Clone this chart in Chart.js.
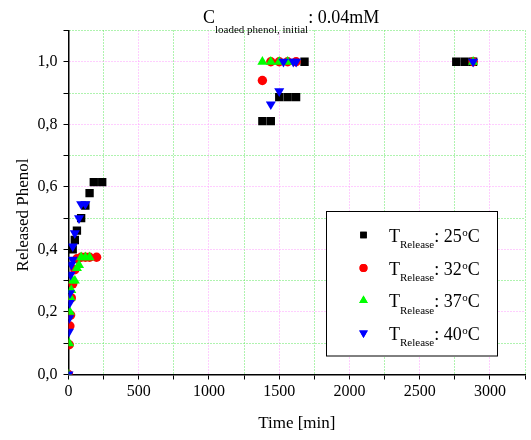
<!DOCTYPE html>
<html>
<head>
<meta charset="utf-8">
<script src="https://cdn.jsdelivr.net/npm/chart.js"></script>
<style>
  html, body { margin: 0; padding: 0; background: #fff; }
  #wrap { width: 531px; height: 440px; position: relative; }
</style>
</head>
<body>
<div id="wrap"><canvas id="c" width="531" height="440"></canvas></div>
<script>
// ---- data (time in min, released phenol fraction) ----
const seriesLabels = ["25", "32", "37", "40"];

const time25 = [30, 45, 60, 90, 120, 150, 180, 240, 1380, 1440, 1500, 1560, 1620, 1680, 2760, 2820, 2880];
const phenol25 = [0.40, 0.43, 0.46, 0.50, 0.54, 0.58, 0.615, 0.615, 0.81, 0.81, 0.887, 0.887, 0.887, 1.0, 1.0, 1.0, 1.0];

const time32 = [0, 5, 10, 15, 20, 30, 45, 60, 90, 120, 150, 200, 1380, 1440, 1500, 1560, 1620, 2880];
const phenol32 = [0.0, 0.095, 0.155, 0.19, 0.245, 0.29, 0.335, 0.37, 0.375, 0.375, 0.375, 0.375, 0.94, 1.0, 1.0, 1.0, 1.0, 1.0];

const time37 = [0, 5, 10, 15, 20, 30, 45, 60, 75, 90, 120, 150, 1380, 1440, 1500, 1560, 2880];
const phenol37 = [0.0, 0.10, 0.20, 0.245, 0.27, 0.30, 0.30, 0.34, 0.35, 0.375, 0.375, 0.375, 1.0, 1.0, 1.0, 1.0, 1.0];

const time40 = [0, 3, 5, 8, 10, 15, 20, 30, 30, 45, 75, 90, 120, 1440, 1500, 1530, 1600, 1620, 2880];
const phenol40 = [0.0, 0.137, 0.18, 0.229, 0.26, 0.319, 0.351, 0.367, 0.41, 0.452, 0.50, 0.545, 0.545, 0.864, 0.906, 1.0, 1.0, 1.0, 1.0];

const xTickStep = 250;   // labels every 500
const yTickStep = 0.1;   // labels every 0.2

function pts(t, v) { return t.map((x, i) => ({ x: x, y: v[i] })); }

const SERIF = '"Liberation Serif", "DejaVu Serif", serif';
const PINK = '#ff9cff';
const GREEN = '#5fe65f';

const styles = [
  { color: '#000000', pointStyle: 'rect', radius: 5.9, rotation: 0, lr: 4.6 },
  { color: '#ff0000', pointStyle: 'circle', radius: 4.7, rotation: 0, lr: 4.0 },
  { color: '#00ff00', pointStyle: 'triangle', radius: 5.8, rotation: 0, lr: 5.0 },
  { color: '#0000ff', pointStyle: 'triangle', radius: 5.8, rotation: 180, lr: 5.0 }
];
const seriesData = [pts(time25, phenol25), pts(time32, phenol32), pts(time37, phenol37), pts(time40, phenol40)];

const datasets = seriesData.map((d, i) => ({
  label: 'T_Release: ' + seriesLabels[i] + '°C',
  data: d,
  order: 4 - i,
  showLine: false,
  pointStyle: styles[i].pointStyle,
  rotation: styles[i].rotation,
  pointRadius: styles[i].radius,
  pointHoverRadius: styles[i].radius,
  backgroundColor: styles[i].color,
  borderColor: styles[i].color,
  borderWidth: 0
}));

// custom title, y-axis title and legend with sub/superscripts
const decor = {
  id: 'decor',
  afterDraw(chart) {
    const ctx = chart.ctx;
    ctx.save();
    ctx.fillStyle = '#000';
    ctx.textBaseline = 'alphabetic';
    ctx.textAlign = 'left';
    // title
    let x = 203;
    ctx.font = '18px ' + SERIF;
    ctx.fillText('C', x, 23); x += ctx.measureText('C').width;
    ctx.font = '11px ' + SERIF;
    ctx.fillText('loaded phenol, initial', x, 32.5); x += ctx.measureText('loaded phenol, initial').width;
    ctx.font = '18px ' + SERIF;
    ctx.fillText(': 0.04mM', x, 23);

    // y-axis title
    ctx.save();
    ctx.translate(24, 215);
    ctx.rotate(-Math.PI / 2);
    ctx.textAlign = 'center';
    ctx.textBaseline = 'middle';
    ctx.font = '17px ' + SERIF;
    ctx.fillText('Released Phenol', 0, 0);
    ctx.restore();

    // legend box
    const bx = 326.5, by = 211.5, bw = 171, bh = 144.5;
    ctx.fillStyle = '#fff';
    ctx.fillRect(bx, by, bw, bh);
    ctx.strokeStyle = '#000';
    ctx.lineWidth = 1;
    ctx.setLineDash([]);
    ctx.strokeRect(bx, by, bw, bh);
    const rows = [235, 268, 300.5, 333];
    for (let i = 0; i < 4; i++) {
      const y = rows[i];
      ctx.fillStyle = styles[i].color;
      ctx.strokeStyle = styles[i].color;
      Chart.helpers.drawPoint(ctx, { pointStyle: styles[i].pointStyle, radius: styles[i].lr, rotation: styles[i].rotation, borderWidth: 0 }, 363.5, y);
      ctx.fill();
      ctx.fillStyle = '#000';
      let tx = 389;
      ctx.font = '18px ' + SERIF;
      ctx.fillText('T', tx, y + 6.7); tx += ctx.measureText('T').width;
      ctx.font = '11px ' + SERIF;
      ctx.fillText('Release', tx, y + 13); tx += ctx.measureText('Release').width;
      ctx.font = '18px ' + SERIF;
      const s = ': ' + seriesLabels[i];
      ctx.fillText(s, tx, y + 6.7); tx += ctx.measureText(s).width;
      ctx.font = '11px ' + SERIF;
      ctx.fillText('o', tx + 0.5, y + 0.5); tx += ctx.measureText('o').width + 0.5;
      ctx.font = '18px ' + SERIF;
      ctx.fillText('C', tx, y + 6.7);
    }
    ctx.restore();
  }
};

function isMajor(v, step) { return Math.round(v / step) % 2 === 0; }

new Chart(document.getElementById('c'), {
  type: 'scatter',
  data: { datasets: datasets },
  options: {
    responsive: false,
    animation: false,
    events: [],
    layout: { padding: { top: 30.5, right: 0, left: 0, bottom: 0 } },
    plugins: { legend: { display: false }, title: { display: false }, tooltip: { enabled: false } },
    scales: {
      x: {
        type: 'linear', min: 0, max: 3250,
        afterFit(s) { s.height = 65.5; },
        border: { display: true, color: '#000', width: 1.5, dash: [1, 2] },
        grid: {
          drawOnChartArea: true, drawTicks: true, tickLength: 5,
          color: c => (isMajor(c.tick.value, xTickStep) ? PINK : GREEN),
          lineWidth: 1, tickBorderDash: [], tickColor: '#000', tickWidth: 1
        },
        ticks: {
          stepSize: xTickStep, autoSkip: false, maxRotation: 0, padding: 3,
          color: '#000', font: { family: SERIF, size: 16 },
          callback: v => (isMajor(v, xTickStep) && v <= 3000 ? String(v) : '')
        },
        title: { display: true, text: 'Time [min]', color: '#000', font: { family: SERIF, size: 17 }, padding: { top: 0, bottom: 6 } }
      },
      y: {
        type: 'linear', min: 0, max: 1.1,
        afterFit(s) { s.width = 68.5; },
        border: { display: true, color: '#000', width: 1.5, dash: [1, 2] },
        grid: {
          drawOnChartArea: true, drawTicks: true, tickLength: 5,
          color: c => (isMajor(c.tick.value, yTickStep) ? PINK : GREEN),
          lineWidth: 1, tickBorderDash: [], tickColor: '#000', tickWidth: 1
        },
        ticks: {
          stepSize: yTickStep, autoSkip: false, padding: 6,
          color: '#000', font: { family: SERIF, size: 16 },
          callback: v => (isMajor(v, yTickStep) && v < 1.05 ? v.toFixed(1).replace('.', ',') : '')
        },
        title: { display: false }
      }
    }
  },
  plugins: [decor]
});
</script>
</body>
</html>
